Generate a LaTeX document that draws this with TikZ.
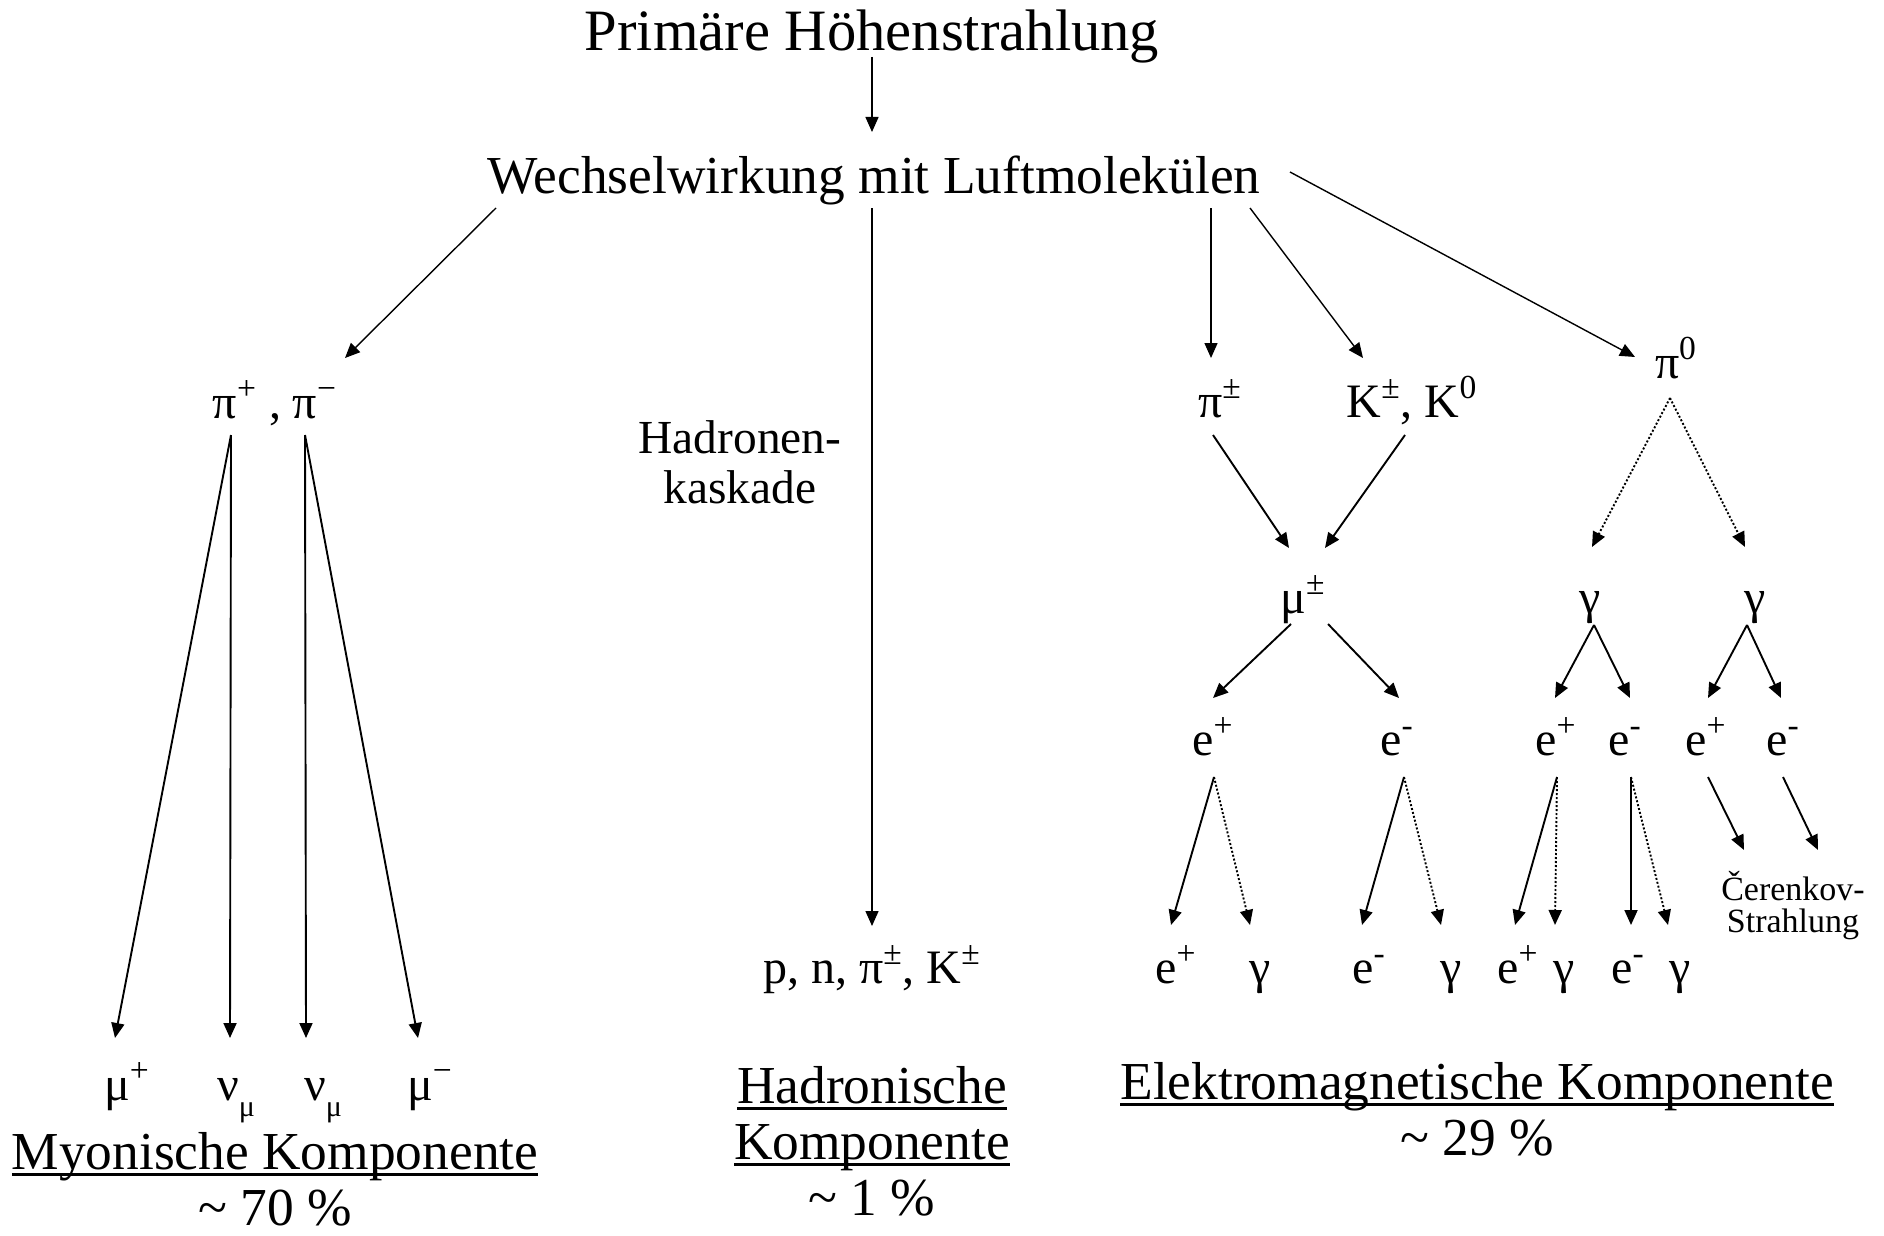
\documentclass[tikz,border=0pt]{standalone}
\usepackage{fontspec}
\setmainfont{Liberation Serif}
\usetikzlibrary{arrows.meta}
\newsavebox\ulbox
\newcommand\myul[1]{\sbox\ulbox{#1}\rlap{\rule[-3.4pt]{\wd\ulbox}{1.3pt}}\usebox\ulbox}
\newcommand\lowsub[1]{\raisebox{-8pt}{\fontsize{15}{15}\selectfont #1}}
\begin{document}
\begin{tikzpicture}[x=0.5pt,y=-0.5pt,
  big/.style={font=\fontsize{29.3}{33}\selectfont, inner sep=0pt, anchor=base},
  lbl/.style={font=\fontsize{26.7}{28}\selectfont, inner sep=0pt, anchor=base, align=center},
  part/.style={font=\fontsize{24}{28}\selectfont, inner sep=0pt, anchor=base},
  arr/.style={line width=0.95pt, -{Triangle[length=7.5pt,width=6.5pt]}},
  arrthin/.style={arr, line width=0.7pt},
  dotarr/.style={arr, dash pattern=on 1pt off 1pt}]
\fill[white] (0,0) rectangle (1884,1236);
\useasboundingbox (0,0) rectangle (1884,1236);

% top
\node[big] (title) at (872,51) {Primäre Höhenstrahlung};
\node[lbl] (wech) at (874,193) {Wechselwirkung mit Luftmolekülen};

% myonic branch
\node[part] (pipm) at (275,418) {π\textsuperscript{+} , π\textsuperscript{−}};
\node[part] (m1) at (127,1100) {μ\textsuperscript{+}};
\node[part] (m2) at (236,1100) {ν\lowsub{μ}};
\node[part] (m3) at (323,1100) {ν\lowsub{μ}};
\node[part] (m4) at (430,1100) {μ\textsuperscript{−}};
\node[lbl] (myon) at (275,1225) {\myul{Myonische Komponente}\\\textasciitilde\ 70 \%};

% hadronic branch
\node[lbl, font=\fontsize{23.7}{25}\selectfont] (kask) at (740,503) {Hadronen-\\kaskade};
\node[part] (pnk) at (872,983) {p, n, π\textsuperscript{±}, K\textsuperscript{±}};
\node[lbl] (hadr) at (872,1215) {\myul{Hadronische}\\\myul{Komponente}\\\textasciitilde\ 1 \%};

% electromagnetic branch
\node[part] (pipmR) at (1220,417) {π\textsuperscript{±}};
\node[part] (kk) at (1412,417) {K\textsuperscript{±}, K\textsuperscript{0}};
\node[part] (pinull) at (1676,378) {π\textsuperscript{0}};
\node[part] (mu) at (1303,613) {μ\textsuperscript{±}};
\node[part] (ga) at (1590,613) {γ};
\node[part] (gb) at (1755,613) {γ};
\node[part] (ea) at (1213,755) {e\textsuperscript{+}};
\node[part] (eb) at (1397,755) {e\textsuperscript{-}};
\node[part] (ec) at (1556,755) {e\textsuperscript{+}};
\node[part] (ed) at (1625,755) {e\textsuperscript{-}};
\node[part] (ee) at (1706,755) {e\textsuperscript{+}};
\node[part] (ef) at (1783,755) {e\textsuperscript{-}};
\node[part] (b1) at (1176,983) {e\textsuperscript{+}};
\node[part] (b2) at (1260,983) {γ};
\node[part] (b3) at (1369,983) {e\textsuperscript{-}};
\node[part] (b4) at (1451,983) {γ};
\node[part] (b5) at (1518,983) {e\textsuperscript{+}};
\node[part] (b6) at (1564,983) {γ};
\node[part] (b7) at (1628,983) {e\textsuperscript{-}};
\node[part] (b8) at (1680,983) {γ};
\node[lbl, font=\fontsize{17}{16}\selectfont] (cer) at (1793,932) {Čerenkov-\\Strahlung};
\node[lbl] (elm) at (1477,1155) {\myul{Elektromagnetische Komponente}\\\textasciitilde\ 29 \%};

% connectors from the top
\draw[arrthin] ([shift={(0,6)}]title.base) -- ([shift={(-2,-61)}]wech.base);
\draw[arrthin] ([shift={(-378,15)}]wech.base) -- ([shift={(70,-60)}]pipm.base);
\draw[arrthin] ([shift={(-2,15)}]wech.base) -- ([shift={(0,-57)}]pnk.base);
\draw[arrthin] ([shift={(337,15)}]wech.base) -- ([shift={(-9,-59)}]pipmR.base);
\draw[arrthin] ([shift={(376,15)}]wech.base) -- ([shift={(-49,-59)}]kk.base);
\draw[arrthin] ([shift={(416,-21)}]wech.base) -- ([shift={(-41,-21)}]pinull.base);

% myonic decays
\draw[arr] ([shift={(-44,17)}]pipm.base) -- ([shift={(-12,-62)}]m1.base);
\draw[arr] ([shift={(-44,17)}]pipm.base) -- ([shift={(-6,-62)}]m2.base);
\draw[arr] ([shift={(30,17)}]pipm.base) -- ([shift={(-17,-62)}]m3.base);
\draw[arr] ([shift={(30,17)}]pipm.base) -- ([shift={(-12,-62)}]m4.base);

% electromagnetic cascade
\draw[arr] ([shift={(-7,18)}]pipmR.base) -- ([shift={(-14,-65)}]mu.base);
\draw[arr] ([shift={(-7,18)}]kk.base) -- ([shift={(22,-65)}]mu.base);
\draw[dotarr] ([shift={(-6,20)}]pinull.base) -- ([shift={(2,-66)}]ga.base);
\draw[dotarr] ([shift={(-6,20)}]pinull.base) -- ([shift={(-10,-66)}]gb.base);
\draw[arr] ([shift={(-12,11)}]mu.base) -- ([shift={(0,-57)}]ea.base);
\draw[arr] ([shift={(25,11)}]mu.base) -- ([shift={(2,-57)}]eb.base);
\draw[arr] ([shift={(4,12)}]ga.base) -- ([shift={(-1,-57)}]ec.base);
\draw[arr] ([shift={(4,12)}]ga.base) -- ([shift={(5,-57)}]ed.base);
\draw[arr] ([shift={(-8,12)}]gb.base) -- ([shift={(2,-57)}]ee.base);
\draw[arr] ([shift={(-8,12)}]gb.base) -- ([shift={(-2,-57)}]ef.base);

\draw[arr] ([shift={(1,22)}]ea.base) -- ([shift={(-5,-58)}]b1.base);
\draw[dotarr] ([shift={(1,22)}]ea.base) -- ([shift={(-10,-58)}]b2.base);
\draw[arr] ([shift={(7,22)}]eb.base) -- ([shift={(-7,-58)}]b3.base);
\draw[dotarr] ([shift={(7,22)}]eb.base) -- ([shift={(-10,-58)}]b4.base);
\draw[arr] ([shift={(1,22)}]ec.base) -- ([shift={(-3,-58)}]b5.base);
\draw[dotarr] ([shift={(1,22)}]ec.base) -- ([shift={(-9,-58)}]b6.base);
\draw[arr] ([shift={(6,22)}]ed.base) -- ([shift={(3,-58)}]b7.base);
\draw[dotarr] ([shift={(6,22)}]ed.base) -- ([shift={(-12,-58)}]b8.base);
\draw[arr] ([shift={(2,22)}]ee.base) -- ([shift={(-49,-82)}]cer.base);
\draw[arr] ([shift={(0,22)}]ef.base) -- ([shift={(25,-82)}]cer.base);
\end{tikzpicture}
\end{document}
